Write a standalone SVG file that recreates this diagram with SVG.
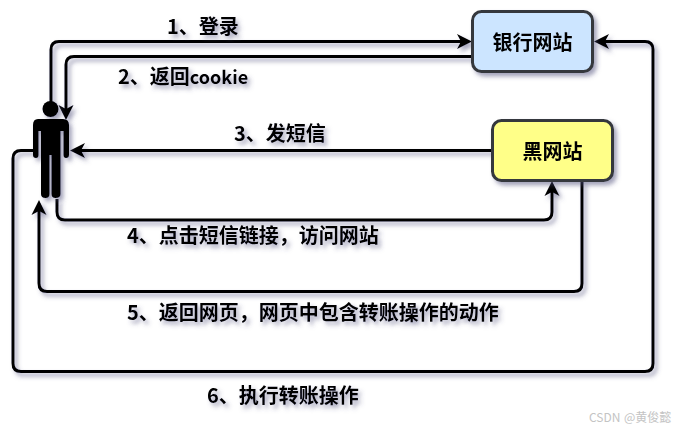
<svg xmlns="http://www.w3.org/2000/svg" width="679" height="432" viewBox="0 0 679 432">
<style>
.c{fill:none;stroke:#000;stroke-width:3;stroke-linejoin:round}
.a{marker-end:url(#arrow)}
.n{stroke:#36393d;stroke-width:3}
text{font-family:"Noto Sans CJK SC","Noto Sans",sans-serif}
.l{font-size:20px;font-weight:700;fill:#000}
.t{font-size:20px;font-weight:700;fill:#000;text-anchor:middle}
.w{font-size:12px;fill:#c4c4c4}
</style>
<defs>
<filter id="s" x="-20%" y="-20%" width="140%" height="140%"><feDropShadow dx="3" dy="3.5" stdDeviation="2.2" flood-color="#4a4a78" flood-opacity="0.5"/></filter>
<marker id="arrow" markerUnits="userSpaceOnUse" markerWidth="20" markerHeight="20" refX="5" refY="10" orient="auto"><path d="M0,2.500 L15,10 L0,17.500 L4,10 Z" fill="#000"/></marker>
</defs>
<g id="connectors" filter="url(#s)">
<path class="c a" d="M51,103 V49.500 Q51,41.500 59,41.500 H462"/>
<path class="c a" d="M472,56.500 H74 Q66,56.500 66,64.500 V110"/>
<path class="c a" d="M492,150.500 H80"/>
<path class="c a" d="M57,199 V212 Q57,220 65,220 H544 Q552,220 552,212 V191"/>
<path class="c a" d="M582,181 V283.500 Q582,291.500 574,291.500 H47 Q39,291.500 39,283.500 V210"/>
<path class="c a" d="M33,150.500 H21 Q13,150.500 13,158.500 V363.500 Q13,371.500 21,371.500 H645 Q653,371.500 653,363.500 V49.500 Q653,41.500 645,41.500 H604"/>
</g>
<g id="person" filter="url(#s)">
<circle cx="50.500" cy="109" r="8"/>
<path d="M38,119 H63 Q69,119 69,125 V155 Q69,158 66,158 Q63.500,158 63.500,155 V131 H60.500 V194 Q60.500,198 55.500,198 Q51.500,198 51.500,194 V155 H49.500 V194 Q49.500,198 45.500,198 Q41,198 41,194 V131 H38.500 V155 Q38.500,158 36,158 Q33,158 33,155 V125 Q33,119 38,119 Z"/>
</g>
<g id="bank" filter="url(#s)">
<rect class="n" x="472.500" y="11.500" width="120" height="60" rx="9" fill="#cce5ff"/>
<text class="t" x="532.500" y="49.500">银行网站</text>
</g>
<g id="blacksite" filter="url(#s)">
<rect class="n" x="492.500" y="120.500" width="120" height="60" rx="9" fill="#ffff88"/>
<text class="t" x="552.500" y="159">黑网站</text>
</g>
<g id="labels" filter="url(#s)">
<text class="l" x="167" y="33.500">1、登录</text>
<text class="l" x="118" y="84">2、返回<tspan font-size="18">cookie</tspan></text>
<text class="l" x="234" y="141">3、发短信</text>
<text class="l" x="127" y="243">4、点击短信链接，访问网站</text>
<text class="l" x="127" y="320">5、返回网页，网页中包含转账操作的动作</text>
<text class="l" x="207" y="403">6、执行转账操作</text>
</g>
<text class="w" x="589" y="422">CSDN<tspan x="624">@黄俊懿</tspan></text>
</svg>
